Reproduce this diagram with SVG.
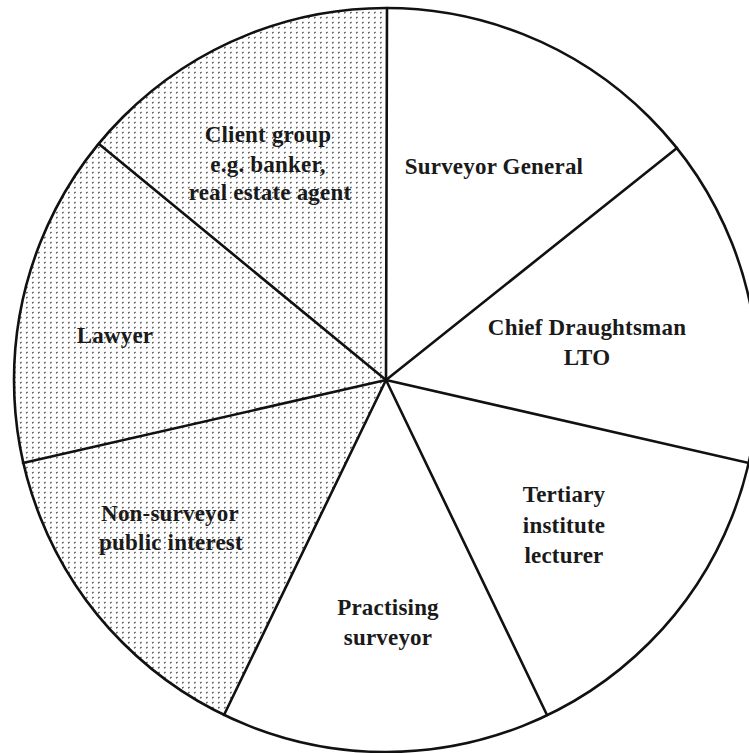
<svg xmlns="http://www.w3.org/2000/svg" width="749" height="753" viewBox="0 0 749 753">
  <style>
    .lbl { font-family: "Liberation Serif", "Times New Roman", serif; font-weight: bold; font-size: 23px; letter-spacing: 0.2px; fill: #1a1a1a; text-anchor: middle; }
    .white { fill: #ffffff; stroke: none; }
    .shade { fill: url(#stipple); stroke: none; }
    .edge { stroke: #111; stroke-width: 2.6; fill: none; stroke-linecap: round; }
  </style>
  <defs>
    <pattern id="stipple" width="6" height="5" patternUnits="userSpaceOnUse">
      <rect width="6" height="5" fill="#ffffff"/>
      <path d="M2.2,3.4 L3.5,1.8" stroke="#444" stroke-width="1.2"/>
    </pattern>
  </defs>
  <rect width="749" height="753" fill="#ffffff"/>

  <g id="client-group">
    <path class="shade" d="M386,380 L99,144 A372,372 0 0 1 387,8 Z"/>
    <text class="lbl" x="268" y="142">Client group</text>
    <text class="lbl" x="268" y="172">e.g. banker,</text>
    <text class="lbl" x="270" y="200">real estate agent</text>
  </g>
  <g id="surveyor-general">
    <path class="white" d="M386,380 L387,8 A372,372 0 0 1 677,148 Z"/>
    <text class="lbl" x="494" y="174">Surveyor General</text>
  </g>
  <g id="chief-draughtsman">
    <path class="white" d="M386,380 L677,148 A372,372 0 0 1 749,463 Z"/>
    <text class="lbl" x="587" y="335">Chief Draughtsman</text>
    <text class="lbl" x="587" y="365">LTO</text>
  </g>
  <g id="tertiary-lecturer">
    <path class="white" d="M386,380 L749,463 A372,372 0 0 1 547,715 Z"/>
    <text class="lbl" x="564" y="502">Tertiary</text>
    <text class="lbl" x="564" y="533">institute</text>
    <text class="lbl" x="564" y="563">lecturer</text>
  </g>
  <g id="practising-surveyor">
    <path class="white" d="M386,380 L547,715 A372,372 0 0 1 224,715 Z"/>
    <text class="lbl" x="388" y="615">Practising</text>
    <text class="lbl" x="388" y="645">surveyor</text>
  </g>
  <g id="non-surveyor">
    <path class="shade" d="M386,380 L224,715 A372,372 0 0 1 23,463 Z"/>
    <text class="lbl" x="170" y="521">Non-surveyor</text>
    <text class="lbl" x="171" y="550">public interest</text>
  </g>
  <g id="lawyer">
    <path class="shade" d="M386,380 L23,463 A372,372 0 0 1 99,144 Z"/>
    <text class="lbl" x="115" y="343">Lawyer</text>
  </g>

  <g id="connectors">
    <circle class="edge" cx="386" cy="380" r="372"/>
    <line class="edge" x1="386" y1="380" x2="387" y2="8"/>
    <line class="edge" x1="386" y1="380" x2="677" y2="148"/>
    <line class="edge" x1="386" y1="380" x2="749" y2="463"/>
    <line class="edge" x1="386" y1="380" x2="547" y2="715"/>
    <line class="edge" x1="386" y1="380" x2="224" y2="715"/>
    <line class="edge" x1="386" y1="380" x2="23" y2="463"/>
    <line class="edge" x1="386" y1="380" x2="99" y2="144"/>
  </g>
</svg>
